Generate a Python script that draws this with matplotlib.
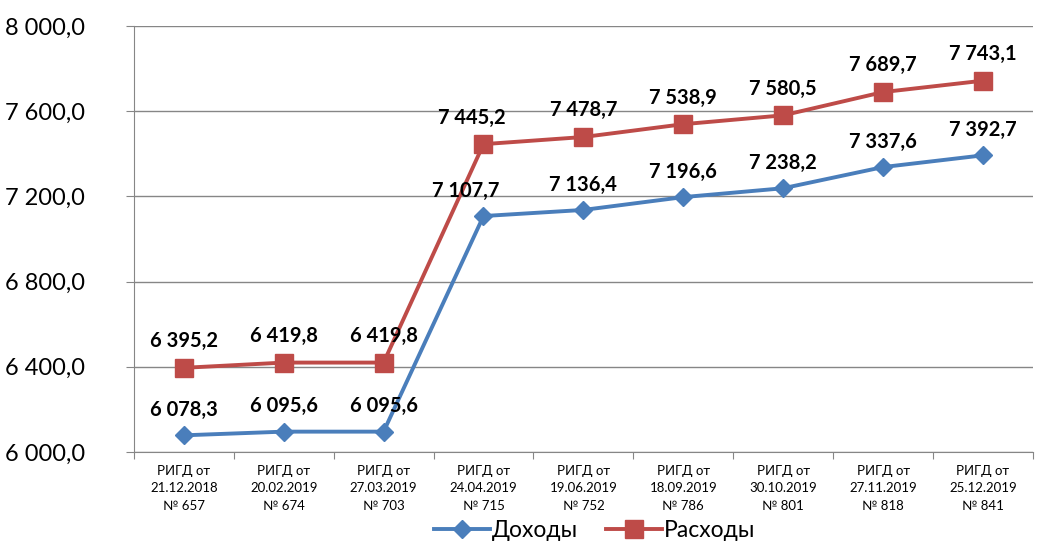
import matplotlib.pyplot as plt
from matplotlib.ticker import FuncFormatter

categories = [
    "РИГД от\n21.12.2018\n№ 657",
    "РИГД от\n20.02.2019\n№ 674",
    "РИГД от\n27.03.2019\n№ 703",
    "РИГД от\n24.04.2019\n№ 715",
    "РИГД от\n19.06.2019\n№ 752",
    "РИГД от\n18.09.2019\n№ 786",
    "РИГД от\n30.10.2019\n№ 801",
    "РИГД от\n27.11.2019\n№ 818",
    "РИГД от\n25.12.2019\n№ 841",
]
income = [6078.3, 6095.6, 6095.6, 7107.7, 7136.4, 7196.6, 7238.2, 7337.6, 7392.7]
expenses = [6395.2, 6419.8, 6419.8, 7445.2, 7478.7, 7538.9, 7580.5, 7689.7, 7743.1]
y_ticks = [6000, 6400, 6800, 7200, 7600, 8000]

blue = "#4a7ebb"
red = "#be4b48"


def fmt(v):
    s = f"{v:,.1f}".replace(",", " ").replace(".", ",")
    return s


plt.rcParams["font.family"] = ["Lato", "DejaVu Sans"]

fig = plt.figure(figsize=(10.54, 5.41), dpi=100)
ax = fig.add_axes([0.127, 0.1645, 0.853, 0.7875])

x = list(range(len(categories)))
ax.plot(x, income, color=blue, lw=2.8, marker="D", ms=9.5, label="Доходы")
ax.plot(x, expenses, color=red, lw=2.8, marker="s", ms=13, label="Расходы")

for i, v in enumerate(income):
    dx = -0.18 if i == 3 else 0
    ax.annotate(fmt(v), (i + dx, v), xytext=(0, 11), textcoords="offset points",
                ha="center", va="bottom", fontsize=14.5, fontweight="bold")
for i, v in enumerate(expenses):
    dx = -0.12 if i == 3 else 0
    ax.annotate(fmt(v), (i + dx, v), xytext=(0, 12), textcoords="offset points",
                ha="center", va="bottom", fontsize=14.5, fontweight="bold")

ax.set_xlim(-0.5, len(categories) - 0.5)
ax.set_ylim(6000, 8000)
ax.set_yticks(y_ticks)
ax.yaxis.set_major_formatter(FuncFormatter(lambda v, p: fmt(v)))
ax.set_xticks([i - 0.5 for i in range(len(categories) + 1)], minor=False)
ax.set_xticklabels([])
ax.set_xticks(x, minor=True)
ax.set_xticklabels(categories, minor=True, fontsize=9.5, linespacing=1.55)
ax.tick_params(axis="x", which="minor", length=0, pad=9)
ax.tick_params(axis="x", which="major", length=5, color="#868686", direction="out")
ax.tick_params(axis="y", length=6, color="#868686", labelsize=17, pad=29)

ax.grid(axis="y", color="#868686", lw=1)
ax.set_axisbelow(True)
for side in ["top", "right"]:
    ax.spines[side].set_visible(False)
ax.spines["left"].set_color("#868686")
ax.spines["bottom"].set_color("#868686")

fig.legend(loc="center", bbox_to_anchor=(0.564, 0.02), ncol=2, frameon=False,
           fontsize=16.5, handlelength=2.45, columnspacing=1.2, handletextpad=0.1)

fig.savefig("out.png", dpi=100)
